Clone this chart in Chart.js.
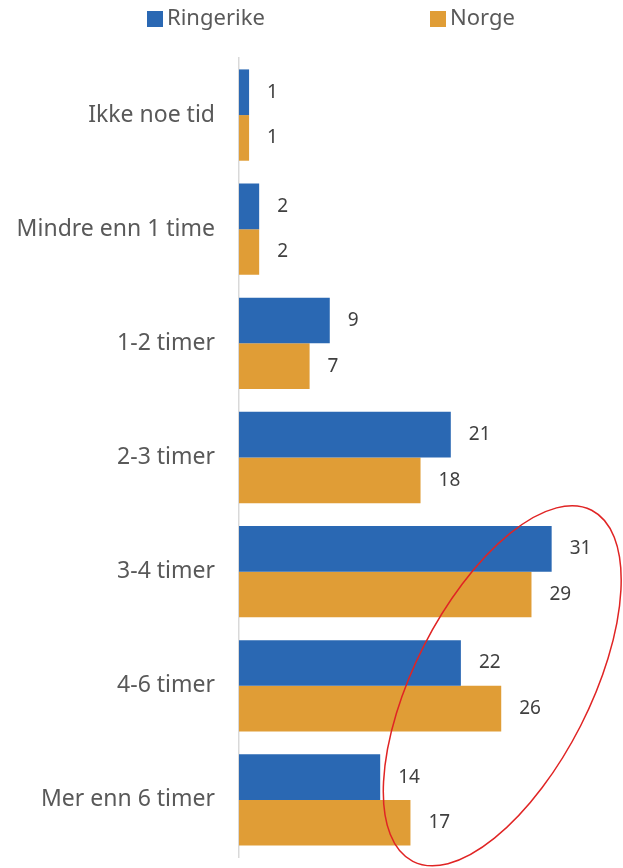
<!DOCTYPE html>
<html>
<head>
<meta charset="utf-8">
<script src="https://cdn.jsdelivr.net/npm/chart.js@4"></script>
<style>
  body { margin: 0; background: #fff; overflow: hidden; }
</style>
</head>
<body>
<canvas id="myChart" width="623" height="868"></canvas>
<script>
// data
const categories = ['Ikke noe tid', 'Mindre enn 1 time', '1-2 timer', '2-3 timer', '3-4 timer', '4-6 timer', 'Mer enn 6 timer'];
const ringerike = [1, 2, 9, 21, 31, 22, 14];
const norge = [1, 2, 7, 18, 29, 26, 17];

const blue = '#2a68b3';
const orange = '#e09d36';

// verdier til hoyre for stolpene
const valueLabels = {
    id: 'valueLabels',
    afterDatasetsDraw(chart) {
        const ctx = chart.ctx;
        ctx.save();
        ctx.font = '19px "Noto Sans"';
        ctx.fillStyle = '#404040';
        ctx.textAlign = 'left';
        ctx.textBaseline = 'middle';
        chart.data.datasets.forEach((ds, i) => {
            chart.getDatasetMeta(i).data.forEach((bar, j) => {
                ctx.fillText(ds.data[j], bar.x + 18, bar.y);
            });
        });
        ctx.restore();
    }
};

// legend med stor avstand
const topLegend = {
    id: 'topLegend',
    afterDraw(chart) {
        const ctx = chart.ctx;
        const xs = [147, 430];
        ctx.save();
        ctx.font = '22px "Noto Sans"';
        ctx.textBaseline = 'middle';
        chart.data.datasets.forEach((ds, i) => {
            ctx.fillStyle = ds.backgroundColor;
            ctx.fillRect(xs[i], 11, 16, 16);
            ctx.fillStyle = '#595959';
            ctx.fillText(ds.label, xs[i] + 20, 19);
        });
        ctx.restore();
    }
};

// rod ring
const redRing = {
    id: 'redRing',
    afterDraw(chart) {
        const ctx = chart.ctx;
        const cx = chart.scales.x.getPixelForValue(26.1);
        const cy = chart.scales.y.getPixelForValue(5);
        ctx.save();
        ctx.strokeStyle = '#e02424';
        ctx.lineWidth = 1.5;
        ctx.beginPath();
        ctx.ellipse(cx, cy, 88, 197, 27 * Math.PI / 180, 0, Math.PI * 2);
        ctx.stroke();
        ctx.restore();
    }
};

const data = {
    labels: categories,
    datasets: [{
        label: 'Ringerike',
        backgroundColor: blue,
        data: ringerike,
        borderWidth: 0,
    }, {
        label: 'Norge',
        backgroundColor: orange,
        data: norge,
        borderWidth: 0,
    }]
};

const config = {
    type: 'bar',
    data: data,
    options: {
        indexAxis: 'y',
        responsive: false,
        animation: false,
        devicePixelRatio: 1,
        layout: { padding: { top: 58, bottom: 11, left: 0, right: 31 } },
        datasets: {
            bar: { categoryPercentage: 0.8, barPercentage: 1.0 }
        },
        plugins: {
            legend: { display: false },
            tooltip: { enabled: false }
        },
        scales: {
            x: {
                display: false,
                min: 0,
                max: 35
            },
            y: {
                grid: { display: false },
                border: { display: true, color: '#d9d9d9', width: 1.5 },
                ticks: {
                    color: '#595959',
                    padding: 16,
                    font: { family: '"Noto Sans"', size: 23 }
                },
                afterFit(scale) {
                    scale.width = 239;
                    scale.paddingTop = 0;
                    scale.paddingBottom = 0;
                }
            }
        }
    },
    plugins: [valueLabels, topLegend, redRing]
};

const myChart = new Chart(document.getElementById('myChart'), config);
</script>
</body>
</html>
